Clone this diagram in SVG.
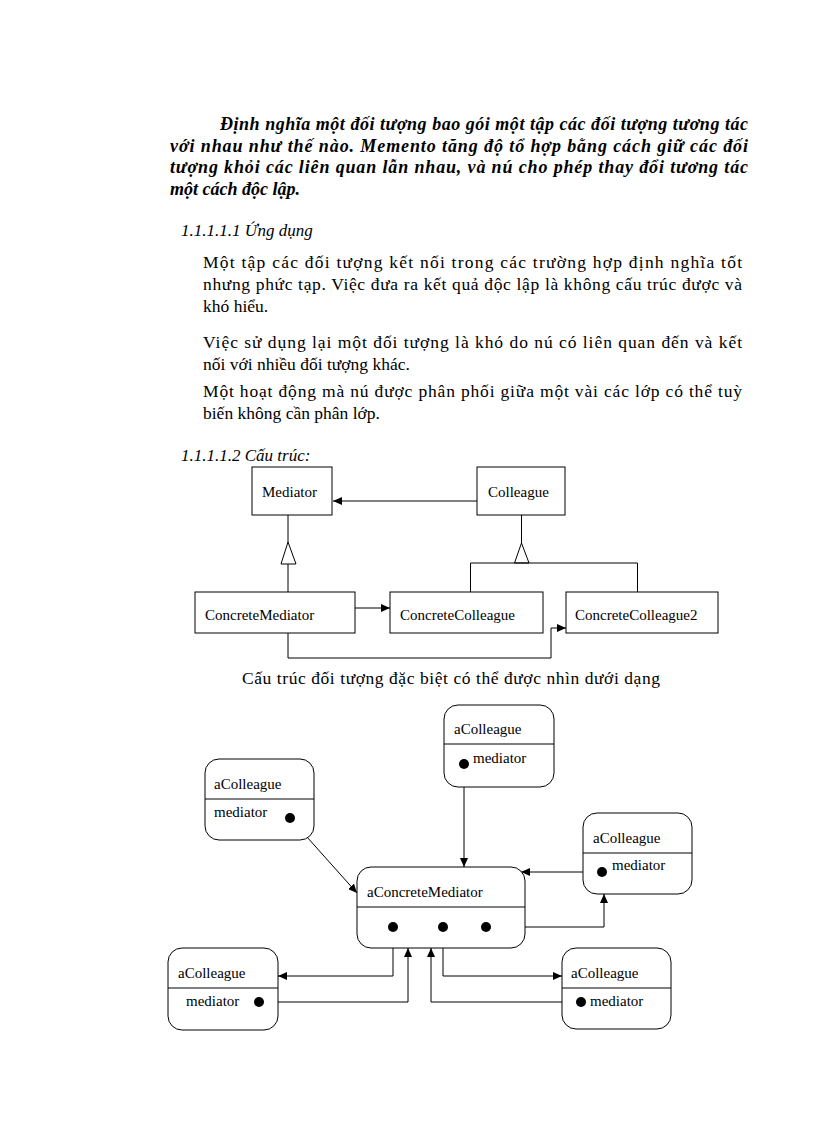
<svg xmlns="http://www.w3.org/2000/svg" width="816" height="1123" viewBox="0 0 816 1123">
<style>
.bi{font-family:"Liberation Serif","Times New Roman",serif;font-size:18px;font-weight:bold;font-style:italic;fill:#000}
.b{font-family:"Liberation Serif","Times New Roman",serif;font-size:17.5px;fill:#000}
.h{font-family:"Liberation Serif","Times New Roman",serif;font-size:17px;font-style:italic;fill:#000}
.l{font-family:"Liberation Serif","Times New Roman",serif;font-size:15px;fill:#000}
.box{fill:#fff;stroke:#000;stroke-width:1}
.ln{fill:none;stroke:#000;stroke-width:1}
.dot{fill:#000}
</style>
<defs>
<marker id="arr" markerWidth="9" markerHeight="8" refX="9" refY="4" orient="auto" markerUnits="userSpaceOnUse"><path d="M0,0 L9,4 L0,8 z" fill="#000"/></marker>
</defs>
<rect width="816" height="1123" fill="#fff"/>
<g id="text">
<text class="bi" x="220" y="130" textLength="528" lengthAdjust="spacing">Định nghĩa một đối tượng bao gói một tập các đối tượng tương tác</text>
<text class="bi" x="170" y="151.5" textLength="578" lengthAdjust="spacing">với nhau như thế nào. Memento tăng độ tổ hợp bằng cách giữ các đối</text>
<text class="bi" x="170" y="173" textLength="578" lengthAdjust="spacing">tượng khỏi các liên quan lẫn nhau, và nú cho phép thay đổi tương tác</text>
<text class="bi" x="170" y="194.5">một cách độc lập.</text>
<text class="h" x="181" y="236">1.1.1.1.1  Ứng dụng</text>
<text class="b" x="203" y="268" textLength="539" lengthAdjust="spacing">Một tập các đối tượng kết nối trong các trường hợp định nghĩa tốt</text>
<text class="b" x="203" y="290" textLength="539" lengthAdjust="spacing">nhưng phức tạp. Việc đưa ra kết quả độc lập là không cấu trúc được và</text>
<text class="b" x="203" y="312">khó hiểu.</text>
<text class="b" x="203" y="348" textLength="539" lengthAdjust="spacing">Việc sử dụng lại một đối tượng là khó do nú có liên  quan đến và kết</text>
<text class="b" x="203" y="370">nối với nhiều  đối tượng khác.</text>
<text class="b" x="203" y="397" textLength="539" lengthAdjust="spacing">Một hoạt động mà nú được phân phối giữa một vài các lớp có thể tuỳ</text>
<text class="b" x="203" y="419">biến không cần phân lớp.</text>
<text class="h" x="181" y="461">1.1.1.1.2  Cấu trúc:</text>
<text class="b" x="242" y="684" textLength="418" lengthAdjust="spacing">Cấu trúc đối tượng đặc biệt có thể được nhìn dưới dạng</text>
</g>
<g id="connectors">
<line class="ln" x1="477" y1="501" x2="333" y2="501" marker-end="url(#arr)"/>
<line class="ln" x1="288" y1="515" x2="288" y2="542"/>
<polygon class="box" points="288,542 281,564 296,564"/>
<line class="ln" x1="288" y1="564" x2="288" y2="592"/>
<line class="ln" x1="521.5" y1="515" x2="521.5" y2="543"/>
<polygon class="box" points="521.5,543 514.5,563 529,563"/>
<polyline class="ln" points="470.5,592 470.5,563 637.5,563 637.5,592"/>
<line class="ln" x1="355" y1="608" x2="390" y2="608" marker-end="url(#arr)"/>
<polyline class="ln" points="288,633 288,658 551,658 551,628 566,628" marker-end="url(#arr)"/>
<line class="ln" x1="290" y1="818" x2="357" y2="893" marker-end="url(#arr)"/>
<line class="ln" x1="464" y1="764" x2="464" y2="867" marker-end="url(#arr)"/>
<line class="ln" x1="602" y1="872" x2="521" y2="872" marker-end="url(#arr)"/>
<polyline class="ln" points="486,927 604,927 604,894" marker-end="url(#arr)"/>
<polyline class="ln" points="393,927 393,976 278,976" marker-end="url(#arr)"/>
<polyline class="ln" points="443,927 443,976 562,976" marker-end="url(#arr)"/>
<polyline class="ln" points="259,1002 408,1002 408,948" marker-end="url(#arr)"/>
<polyline class="ln" points="581,1002 431,1002 431,948" marker-end="url(#arr)"/>
</g>
<g id="Mediator"><rect class="box" x="252" y="467" width="80" height="48"/><text class="l" x="262" y="497">Mediator</text></g>
<g id="Colleague"><rect class="box" x="477" y="467" width="88" height="48"/><text class="l" x="488" y="497">Colleague</text></g>
<g id="ConcreteMediator"><rect class="box" x="195" y="592" width="160" height="41"/><text class="l" x="205" y="620">ConcreteMediator</text></g>
<g id="ConcreteColleague"><rect class="box" x="390" y="592" width="153" height="41"/><text class="l" x="400" y="620">ConcreteColleague</text></g>
<g id="ConcreteColleague2"><rect class="box" x="566" y="592" width="152" height="41"/><text class="l" x="575" y="620">ConcreteColleague2</text></g>
<g id="aColleague_tl"><rect class="box" x="205" y="759" width="109" height="81" rx="14"/><line class="ln" x1="205" y1="799" x2="314" y2="799"/><text class="l" x="214" y="789">aColleague</text><text class="l" x="214" y="817">mediator</text><circle class="dot" cx="290" cy="818" r="5"/></g>
<g id="aColleague_top"><rect class="box" x="444" y="705" width="110" height="82" rx="14"/><line class="ln" x1="444" y1="744" x2="554" y2="744"/><text class="l" x="454" y="734">aColleague</text><text class="l" x="473" y="763">mediator</text><circle class="dot" cx="464" cy="764" r="5"/></g>
<g id="aColleague_r"><rect class="box" x="583" y="813" width="109" height="81" rx="14"/><line class="ln" x1="583" y1="853" x2="692" y2="853"/><text class="l" x="593" y="843">aColleague</text><text class="l" x="612" y="870">mediator</text><circle class="dot" cx="602" cy="872" r="5"/></g>
<g id="aConcreteMediator"><rect class="box" x="357" y="867" width="168" height="81" rx="14"/><line class="ln" x1="357" y1="907" x2="525" y2="907"/><text class="l" x="367" y="897">aConcreteMediator</text><circle class="dot" cx="393" cy="927" r="5"/><circle class="dot" cx="443" cy="927" r="5"/><circle class="dot" cx="486" cy="927" r="5"/></g>
<g id="aColleague_bl"><rect class="box" x="168" y="948" width="110" height="82" rx="14"/><line class="ln" x1="168" y1="988" x2="278" y2="988"/><text class="l" x="178" y="978">aColleague</text><text class="l" x="186" y="1006">mediator</text><circle class="dot" cx="259" cy="1002" r="5"/></g>
<g id="aColleague_br"><rect class="box" x="562" y="948" width="109" height="81" rx="14"/><line class="ln" x1="562" y1="988" x2="671" y2="988"/><text class="l" x="571" y="978">aColleague</text><text class="l" x="590" y="1006">mediator</text><circle class="dot" cx="581" cy="1002" r="5"/></g>
</svg>
